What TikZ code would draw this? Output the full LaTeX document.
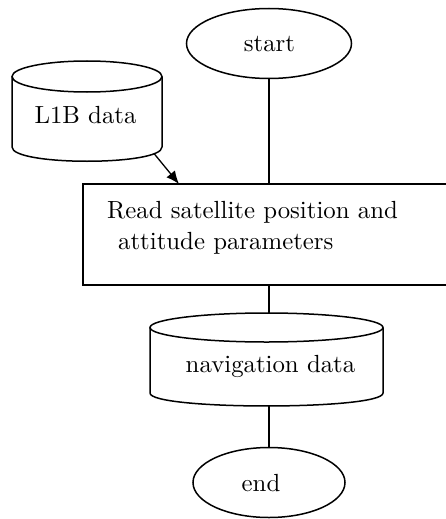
\documentclass[tikz,border=0pt]{standalone}
\usepackage{fontspec}
\setmainfont{lmroman10-regular.otf}
\usetikzlibrary{shapes.geometric,arrows.meta}
\begin{document}
\begin{tikzpicture}[x=1pt,y=-1pt,
  shapeline/.style={draw=black,line width=1.5pt},
  conn/.style={draw=black,line width=1.3pt},
  lbl/.style={inner sep=0pt,anchor=base,font=\fontsize{24.8}{30}\selectfont},
  boxtxt/.style={inner sep=0pt,anchor=base west,font=\fontsize{24.8}{30}\selectfont}]
\useasboundingbox (0,0) rectangle (445,519);
% start / end terminals
\node[ellipse,shapeline,minimum width=165pt,minimum height=70pt,inner sep=0pt,outer sep=0pt] (start) at (269,43.5) {};
\node[lbl] (starttxt) at (269.5,52) {start};
\node[ellipse,shapeline,minimum width=152pt,minimum height=70pt,inner sep=0pt,outer sep=0pt] (end) at (269,482.5) {};
\node[lbl] (endtxt) at (261,491) {end};
% process box
\node[draw=black,line width=1.9pt,minimum width=372pt,minimum height=101pt,inner sep=0pt,outer sep=0pt] (proc) at (269,234.5) {};
\node[boxtxt] (t1) at (107,218) {Read satellite position and};
\node[boxtxt] (t2) at (118,249) {attitude parameters};
% L1B data cylinder
\draw[shapeline] (12,76.5) -- (12,147) .. controls (12,166) and (162,166) .. (162,147) -- (162,76.5);
\draw[shapeline] (87,76.5) ellipse [x radius=75, y radius=15.5];
\node[lbl] (l1b) at (85.5,123) {L1B data};
% navigation data cylinder
\draw[shapeline] (150,327.5) -- (150,393) .. controls (150,410.3) and (383,410.3) .. (383,393) -- (383,327.5);
\draw[shapeline] (266.5,327.5) ellipse [x radius=116.5, y radius=14.5];
\node[lbl] (nav) at (270.5,372) {navigation data};
% connector end points
\coordinate (l1bout) at (154,153.5);
\coordinate (arrtip) at (179,184);
\coordinate (navtop) at (269,313);
\coordinate (navbot) at (269,406);
% connectors
\draw[conn] (start.south) -- (proc.north);
\draw[conn,-{Latex[length=13pt,width=11pt]}] (l1bout) -- (arrtip);
\draw[conn] (proc.south) -- (navtop);
\draw[conn] (navbot) -- (end.north);
\end{tikzpicture}
\end{document}
